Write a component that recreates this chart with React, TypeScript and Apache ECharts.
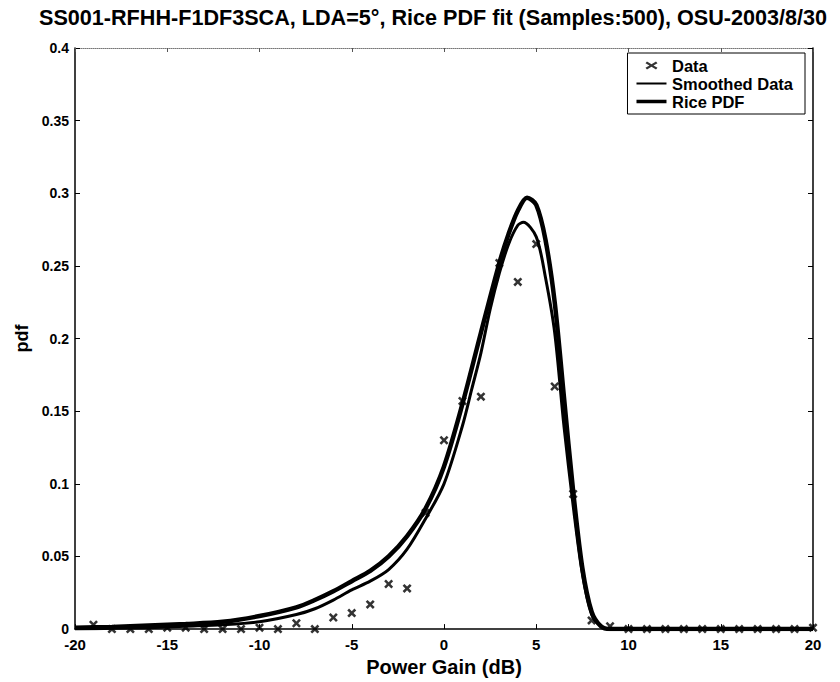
import React, { useEffect, useRef } from "react";
import * as echarts from "echarts";

const titleText = "SS001-RFHH-F1DF3SCA, LDA=5°, Rice PDF fit (Samples:500), OSU-2003/8/30";
const xTicks = [-20, -15, -10, -5, 0, 5, 10, 15, 20];
const yTicks = [0, 0.05, 0.1, 0.15, 0.2, 0.25, 0.3, 0.35, 0.4];

// measured samples (Data markers)
const gainDb = [-19, -18, -17, -16, -15, -14, -13, -12, -11, -10, -9, -8, -7, -6, -5, -4, -3, -2, -1, 0, 1, 2, 3, 4, 5, 6, 7, 8, 9, 10, 11, 12, 13, 14, 15, 16, 17, 18, 19, 20];
const dataPdf = [0.003, 0, 0, 0, 0.001, 0.001, 0, 0, 0, 0.001, 0, 0.004, 0, 0.008, 0.011, 0.017, 0.031, 0.028, 0.08, 0.13, 0.157, 0.16, 0.252, 0.239, 0.265, 0.167, 0.093, 0.006, 0.002, 0, 0, 0, 0, 0, 0, 0, 0, 0, 0, 0.001];

// smoothed data curve
const smoothX = [-20, -18, -16, -14, -12, -10, -8, -7, -6, -5, -4, -3, -2, -1, 0, 1, 1.5, 2, 2.5, 3, 3.5, 4, 4.3, 5, 5.5, 6, 6.5, 7, 7.5, 8, 8.5, 9, 10, 20];
const smoothY = [0, 0.0005, 0.001, 0.002, 0.003, 0.005, 0.01, 0.014, 0.02, 0.027, 0.033, 0.041, 0.055, 0.076, 0.1, 0.14, 0.165, 0.19, 0.22, 0.245, 0.265, 0.278, 0.28, 0.27, 0.242, 0.204, 0.14, 0.085, 0.038, 0.01, 0.002, 0, 0, 0];

// Rice PDF fit curve
const riceX = [-20, -18, -16, -14, -12, -10, -8, -7, -6, -5, -4, -3, -2, -1, 0, 1, 2, 3, 3.5, 4, 4.5, 5, 5.5, 6, 6.5, 7, 7.5, 8, 8.5, 9, 10, 20];
const riceY = [0.001, 0.0015, 0.0025, 0.0035, 0.005, 0.009, 0.015, 0.02, 0.026, 0.033, 0.04, 0.05, 0.064, 0.083, 0.112, 0.155, 0.204, 0.252, 0.272, 0.288, 0.297, 0.292, 0.268, 0.225, 0.16, 0.095, 0.042, 0.012, 0.002, 0, 0, 0];

const X_PATH = "path://M2,0L5,3L8,0L10,2L7,5L10,8L8,10L5,7L2,10L0,8L3,5L0,2Z";
const PAD = "M0,0h0.01v0.01h-0.01zM30,10h-0.01v-0.01h0.01z";
const ICON_DATA = "path://" + PAD + "M10.5,1L15,3.8L19.5,1L21,2.8L17,5L21,7.2L19.5,9L15,6.2L10.5,9L9,7.2L13,5L9,2.8Z";
const ICON_SMOOTH = "path://" + PAD + "M0,4.1H30V5.9H0Z";
const ICON_RICE = "path://" + PAD + "M0,3.2H30V6.8H0Z";

const FONT = "'Liberation Sans', Arial, sans-serif";

export default function App() {
  const ref = useRef<HTMLDivElement>(null);
  useEffect(() => {
    if (!ref.current) return;
    const chart = echarts.init(ref.current, undefined, { renderer: "svg" });
    const pts = (xs: number[], ys: number[]) => xs.map((x, i) => [x, ys[i]]);
    chart.setOption({
      animation: false,
      backgroundColor: "#fff",
      textStyle: { fontFamily: FONT },
      title: {
        text: titleText,
        left: 34,
        top: 1,
        textStyle: { fontSize: 21.6, fontWeight: "bold", color: "#000", fontFamily: FONT },
      },
      legend: {
        orient: "vertical",
        right: 35,
        top: 53,
        backgroundColor: "#fff",
        borderColor: "#000",
        borderWidth: 1,
        padding: [4, 12, 4, 9],
        itemGap: 1,
        itemWidth: 31,
        itemHeight: 10,
        itemTextGap: 9,
        textStyle: { fontSize: 16.5, fontWeight: "bold", color: "#000", fontFamily: FONT },
        data: [
          { name: "Data", icon: ICON_DATA, itemStyle: { color: "#000", borderWidth: 0 } },
          { name: "Smoothed Data", icon: ICON_SMOOTH, itemStyle: { color: "#000", borderWidth: 0 } },
          { name: "Rice PDF", icon: ICON_RICE, itemStyle: { color: "#000", borderWidth: 0 } },
        ],
      },
      grid: { left: 75, right: 27, top: 48, bottom: 46, show: false },
      xAxis: [
        {
          type: "value",
          min: xTicks[0],
          max: xTicks[xTicks.length - 1],
          interval: 5,
          name: "Power Gain (dB)",
          nameLocation: "middle",
          nameGap: 26,
          nameTextStyle: { fontSize: 20, fontWeight: "bold", color: "#000", fontFamily: FONT },
          axisLine: { show: true, onZero: false, lineStyle: { color: "#000", width: 1.5 } },
          axisTick: { show: true, inside: true, length: 5, lineStyle: { color: "#000" } },
          axisLabel: { fontSize: 15, fontWeight: "bold", color: "#000", margin: 8, fontFamily: FONT },
          splitLine: { show: false },
        },
        {
          type: "value",
          position: "top",
          min: xTicks[0],
          max: xTicks[xTicks.length - 1],
          interval: 5,
          axisLine: { show: true, onZero: false, lineStyle: { color: "#777", width: 1, type: "dotted" } },
          axisTick: { show: true, inside: true, length: 4, lineStyle: { color: "#555" } },
          axisLabel: { show: false },
          splitLine: { show: false },
        },
      ],
      yAxis: [
        {
          type: "value",
          min: yTicks[0],
          max: yTicks[yTicks.length - 1],
          interval: 0.05,
          name: "pdf",
          nameLocation: "middle",
          nameGap: 29,
          nameTextStyle: { fontSize: 18, fontWeight: "bold", color: "#000", fontFamily: FONT },
          axisLine: { show: true, onZero: false, lineStyle: { color: "#000", width: 1.5 } },
          axisTick: { show: true, inside: true, length: 5, lineStyle: { color: "#000" } },
          axisLabel: { fontSize: 14, fontWeight: "bold", color: "#000", margin: 6, fontFamily: FONT },
          splitLine: { show: false },
        },
        {
          type: "value",
          position: "right",
          min: yTicks[0],
          max: yTicks[yTicks.length - 1],
          interval: 0.05,
          axisLine: { show: true, onZero: false, lineStyle: { color: "#000", width: 1.5 } },
          axisTick: { show: true, inside: true, length: 5, lineStyle: { color: "#000" } },
          axisLabel: { show: false },
          splitLine: { show: false },
        },
      ],
      series: [
        {
          name: "Data",
          type: "scatter",
          symbol: X_PATH,
          symbolSize: 9,
          itemStyle: { color: "#000" },
          data: pts(gainDb, dataPdf),
          z: 5,
        },
        {
          name: "Smoothed Data",
          type: "line",
          smooth: 0.3,
          showSymbol: false,
          color: "#000",
          lineStyle: { color: "#000", width: 3 },
          data: pts(smoothX, smoothY),
        },
        {
          name: "Rice PDF",
          type: "line",
          smooth: 0.3,
          showSymbol: false,
          color: "#000",
          lineStyle: { color: "#000", width: 4.5 },
          data: pts(riceX, riceY),
        },
      ],
    });
    return () => chart.dispose();
  }, []);
  return (
    <div
      ref={ref}
      style={{ position: "absolute", left: 0, top: 0, width: 840, height: 682 }}
    />
  );
}
